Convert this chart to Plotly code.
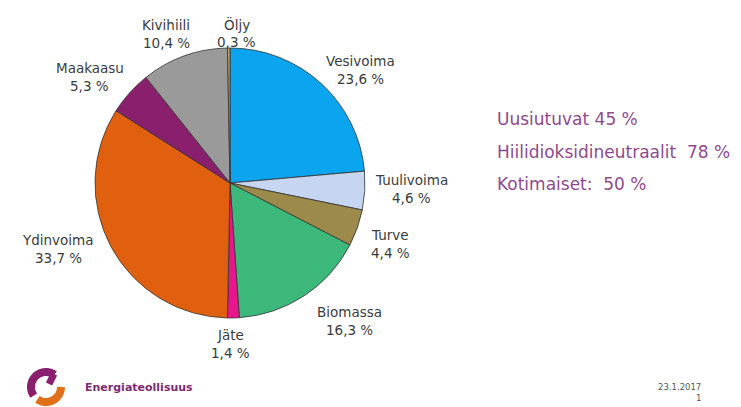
import math
import plotly.graph_objects as go

labels = ["Vesivoima", "Tuulivoima", "Turve", "Biomassa", "Jäte",
          "Ydinvoima", "Maakaasu", "Kivihiili", "Öljy"]
values = [23.6, 4.6, 4.4, 16.3, 1.4, 33.7, 5.3, 10.4, 0.3]
colors = ["#0ba4ee", "#c6d6f0", "#9b8a4a", "#3cb87a", "#e8168c",
          "#e06010", "#8a1f6e", "#9a9a9a", "#c8a060"]
side_texts = ["Uusiutuvat 45 %", "Hiilidioksidineutraalit\u00a0 78 %", "Kotimaiset:\u00a0 50 %"]

W, H = 741, 407
OFF = 8  # page body margin of the html page
cx, cy, R = 230, 183, 135
# label offset (pixels) from the slice's outer mid point
label_off = [(39, -13), (47, -2), (33, 16), (45, 25), (-3, 26),
             (-53, 2), (-40, -16), (-18, -22), (8, -15)]

fig = go.Figure()
fig.add_trace(go.Pie(
    labels=labels, values=values, sort=False, direction="clockwise", rotation=0,
    marker=dict(colors=colors, line=dict(color="#333333", width=0.8)),
    textinfo="none", hoverinfo="label+percent", showlegend=False,
    domain=dict(x=[(cx - OFF - R) / W, (cx - OFF + R) / W],
                y=[(H - (cy - OFF) - R) / H, (H - (cy - OFF) + R) / H]),
))

font_lab = dict(family="DejaVu Sans", size=13.5, color="#3c3c3c")
annotations = []
total = sum(values)
cum = 0.0
for lab, v, (dx, dy) in zip(labels, values, label_off):
    mid = (cum + v / 2) / total * 2 * math.pi
    cum += v
    x = cx + R * math.sin(mid) + dx
    y = cy - R * math.cos(mid) + dy
    pct = f"{v:.1f}".replace(".", ",") + " %"
    annotations.append(dict(x=x, y=y, xref="x", yref="y", text=lab, showarrow=False,
                            font=font_lab, yshift=9))
    annotations.append(dict(x=x, y=y, xref="x", yref="y", text=pct, showarrow=False,
                            font=font_lab, yshift=-9))

for i, t in enumerate(side_texts):
    annotations.append(dict(x=495, y=119 + i * 32.5, xref="x", yref="y", text=t,
                            showarrow=False, xanchor="left",
                            font=dict(family="DejaVu Sans", size=17, color="#8e4a8c")))

annotations.append(dict(x=83, y=387, xref="x", yref="y", text="<b>Energiateollisuus</b>",
                        showarrow=False, xanchor="left",
                        font=dict(family="DejaVu Sans", size=11, color="#7d2a70")))
annotations.append(dict(x=703, y=387, xref="x", yref="y", text="23.1.2017",
                        showarrow=False, xanchor="right",
                        font=dict(family="DejaVu Sans", size=8.5, color="#555555")))
annotations.append(dict(x=703, y=398, xref="x", yref="y", text="1",
                        showarrow=False, xanchor="right",
                        font=dict(family="DejaVu Sans", size=8.5, color="#555555")))

# logo arcs
def arc(a0, a1, lcx, lcy, r, n=30):
    pts = []
    for k in range(n + 1):
        a = math.radians(a0 + (a1 - a0) * k / n)
        pts.append((lcx + r * math.cos(a), lcy - r * math.sin(a)))
    return "M " + " L ".join(f"{px:.2f},{py:.2f}" for px, py in pts)

lcx, lcy, lr = 46, 387, 15
shapes = [
    dict(type="path", xref="x", yref="y", path=arc(55, 215, lcx, lcy, lr),
         line=dict(color="#8a1f6e", width=8)),
    dict(type="path", xref="x", yref="y",
         path=f"M {lcx + 8},{lcy - 13} L {lcx + 3},{lcy - 3}",
         line=dict(color="#8a1f6e", width=7)),
    dict(type="path", xref="x", yref="y", path=arc(235, 360, lcx, lcy, lr),
         line=dict(color="#e0701a", width=8)),
]

fig.update_layout(
    width=W, height=H, margin=dict(l=0, r=0, t=0, b=0),
    paper_bgcolor="white", plot_bgcolor="white",
    xaxis=dict(range=[OFF, W + OFF], visible=False, fixedrange=True),
    yaxis=dict(range=[H + OFF, OFF], visible=False, fixedrange=True),
    annotations=annotations, shapes=shapes,
)
fig.write_html("out.html")
